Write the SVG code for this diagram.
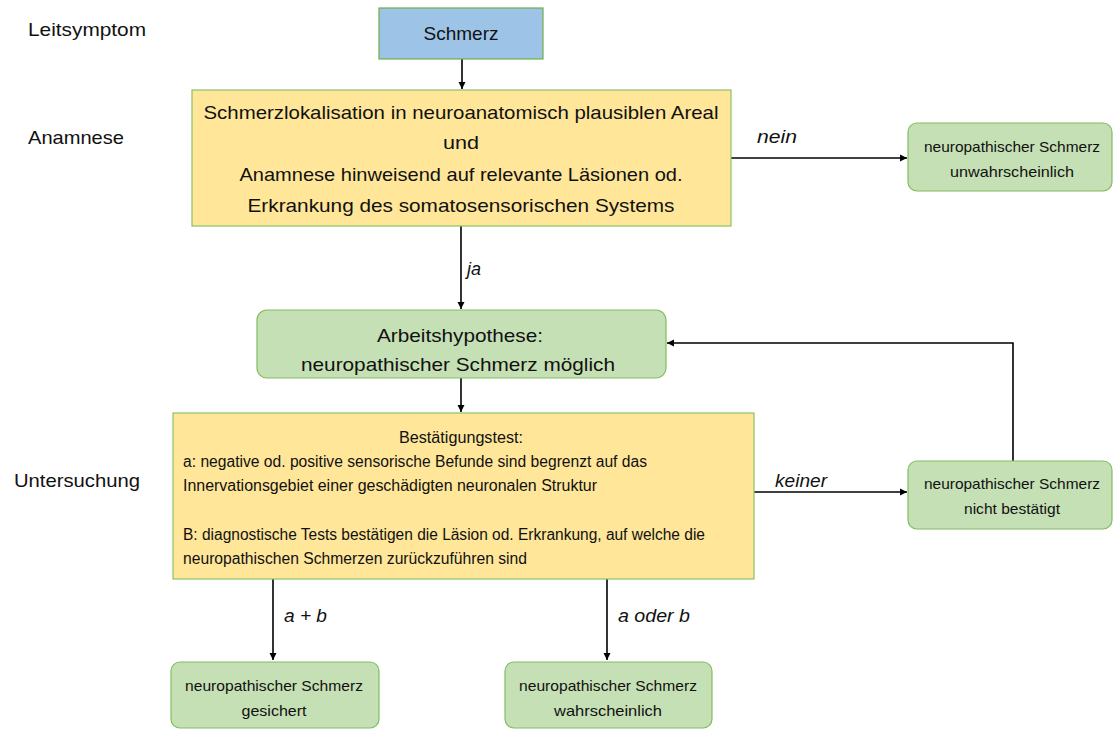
<svg xmlns="http://www.w3.org/2000/svg" width="1114" height="730" viewBox="0 0 1114 730">
<defs>
<style>
text{font-family:"Liberation Sans","Open Sans",Arial,sans-serif;fill:#111}
.lbl{font-size:19px}
.big{font-size:19px;text-anchor:middle}
.mid{font-size:16px}
.sm{font-size:15px;text-anchor:middle}
.it{font-size:18px;font-style:italic}
.blue{fill:#9DC3E6;stroke:#70AD47;stroke-width:1.2}
.yel{fill:#FFE699;stroke:#8CC168;stroke-width:1.2}
.grn{fill:#C5E0B4;stroke:#84BC62;stroke-width:1.2}
.con{fill:none;stroke:#000;stroke-width:1.6}
</style>
<marker id="ah" viewBox="0 0 10 10" refX="10" refY="5" markerWidth="4.5" markerHeight="4.5" orient="auto" markerUnits="strokeWidth">
<path d="M0,0 L10,5 L0,10 z" fill="#000"/>
</marker>
</defs>
<rect width="1114" height="730" fill="#fff"/>

<g id="side-labels">
<text class="lbl" x="28" y="36" textLength="118" lengthAdjust="spacingAndGlyphs">Leitsymptom</text>
<text class="lbl" x="28" y="144" textLength="96" lengthAdjust="spacingAndGlyphs">Anamnese</text>
<text class="lbl" x="14" y="487" textLength="126" lengthAdjust="spacingAndGlyphs">Untersuchung</text>
</g>

<g id="connectors">
<line class="con" x1="462" y1="59" x2="462" y2="89" marker-end="url(#ah)"/>
<line class="con" x1="731" y1="158" x2="907" y2="158" marker-end="url(#ah)"/>
<line class="con" x1="461" y1="226" x2="461" y2="309" marker-end="url(#ah)"/>
<line class="con" x1="461" y1="378" x2="461" y2="412" marker-end="url(#ah)"/>
<line class="con" x1="754" y1="492" x2="907" y2="492" marker-end="url(#ah)"/>
<polyline class="con" points="1013,461 1013,343 667,343" marker-end="url(#ah)"/>
<line class="con" x1="273" y1="579" x2="273" y2="660" marker-end="url(#ah)"/>
<line class="con" x1="607" y1="579" x2="607" y2="660" marker-end="url(#ah)"/>
<text class="it" x="757" y="143" textLength="40" lengthAdjust="spacingAndGlyphs">nein</text>
<text class="it" x="467" y="275">ja</text>
<text class="it" x="775" y="487" textLength="52" lengthAdjust="spacingAndGlyphs">keiner</text>
<text class="it" x="284" y="622" textLength="43" lengthAdjust="spacingAndGlyphs">a + b</text>
<text class="it" x="618" y="622" textLength="72" lengthAdjust="spacingAndGlyphs">a oder b</text>
</g>

<g id="schmerz">
<rect class="blue" x="379" y="8" width="164" height="51"/>
<text class="big" x="461" y="40" textLength="75" lengthAdjust="spacingAndGlyphs">Schmerz</text>
</g>

<g id="anamnese">
<rect class="yel" x="192" y="90" width="539" height="136"/>
<text class="big" x="461" y="119" textLength="515" lengthAdjust="spacingAndGlyphs">Schmerzlokalisation in neuroanatomisch plausiblen Areal</text>
<text class="big" x="461" y="149" textLength="36" lengthAdjust="spacingAndGlyphs">und</text>
<text class="big" x="461" y="181" textLength="443" lengthAdjust="spacingAndGlyphs">Anamnese hinweisend auf relevante Läsionen od.</text>
<text class="big" x="461" y="212" textLength="427" lengthAdjust="spacingAndGlyphs">Erkrankung des somatosensorischen Systems</text>
</g>

<g id="unwahrscheinlich">
<rect class="grn" x="908" y="123" width="204" height="68" rx="9"/>
<text class="sm" x="1012" y="152" textLength="176" lengthAdjust="spacingAndGlyphs">neuropathischer Schmerz</text>
<text class="sm" x="1012" y="177" textLength="124" lengthAdjust="spacingAndGlyphs">unwahrscheinlich</text>
</g>

<g id="arbeitshypothese">
<rect class="grn" x="257" y="310" width="409" height="68" rx="10"/>
<text class="big" x="460" y="342" textLength="166" lengthAdjust="spacingAndGlyphs">Arbeitshypothese:</text>
<text class="big" x="458" y="371" textLength="314" lengthAdjust="spacingAndGlyphs">neuropathischer Schmerz möglich</text>
</g>

<g id="bestaetigungstest">
<rect class="yel" x="173" y="413" width="581" height="166"/>
<text class="mid" x="461" y="443" text-anchor="middle" textLength="124" lengthAdjust="spacingAndGlyphs">Bestätigungstest:</text>
<text class="mid" x="183" y="467" textLength="464" lengthAdjust="spacingAndGlyphs">a: negative od. positive sensorische Befunde sind begrenzt auf das</text>
<text class="mid" x="183" y="491" textLength="414" lengthAdjust="spacingAndGlyphs">Innervationsgebiet einer geschädigten neuronalen Struktur</text>
<text class="mid" x="183" y="540" textLength="522" lengthAdjust="spacingAndGlyphs">B: diagnostische Tests bestätigen die Läsion od. Erkrankung, auf welche die</text>
<text class="mid" x="183" y="564" textLength="344" lengthAdjust="spacingAndGlyphs">neuropathischen Schmerzen zurückzuführen sind</text>
</g>

<g id="nicht-bestaetigt">
<rect class="grn" x="908" y="461" width="204" height="68" rx="9"/>
<text class="sm" x="1012" y="489" textLength="176" lengthAdjust="spacingAndGlyphs">neuropathischer Schmerz</text>
<text class="sm" x="1012" y="514" textLength="96" lengthAdjust="spacingAndGlyphs">nicht bestätigt</text>
</g>

<g id="gesichert">
<rect class="grn" x="171" y="662" width="208" height="66" rx="9"/>
<text class="sm" x="274" y="691" textLength="178" lengthAdjust="spacingAndGlyphs">neuropathischer Schmerz</text>
<text class="sm" x="274" y="716" textLength="65" lengthAdjust="spacingAndGlyphs">gesichert</text>
</g>

<g id="wahrscheinlich">
<rect class="grn" x="505" y="662" width="207" height="66" rx="9"/>
<text class="sm" x="608" y="691" textLength="178" lengthAdjust="spacingAndGlyphs">neuropathischer Schmerz</text>
<text class="sm" x="608" y="716" textLength="108" lengthAdjust="spacingAndGlyphs">wahrscheinlich</text>
</g>
</svg>
